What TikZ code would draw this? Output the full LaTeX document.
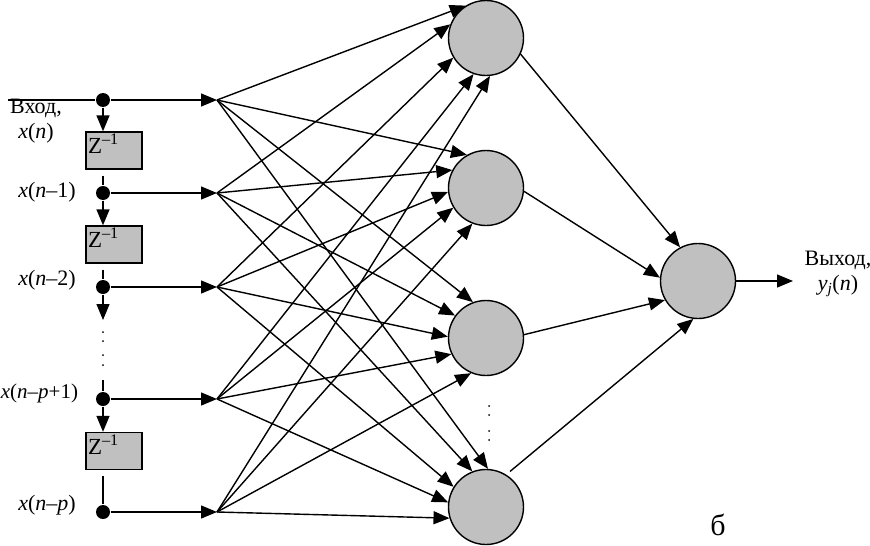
\documentclass[tikz,border=0pt]{standalone}
\usepackage{fontspec}
\setmainfont{Liberation Serif}
\usetikzlibrary{arrows.meta}
\definecolor{nodegray}{RGB}{192,192,192}
\begin{document}
\begin{tikzpicture}[x=1pt,y=-1pt,
  line width=1.4pt,
  tip/.style={-{Triangle[length=16pt,width=13pt]}},
  dotnode/.style={circle,fill=black,inner sep=0pt,minimum size=14pt},
  delay/.style={draw,fill=nodegray,minimum width=56pt,minimum height=37pt,inner sep=0pt,
    label={[lbl,font=\fontsize{23}{26}\selectfont,inner sep=2pt,anchor=north west]north west:Z\textsuperscript{–1}}},
  neuron/.style={circle,draw,fill=nodegray,minimum size=75pt,inner sep=0pt},
  lbl/.style={font=\fontsize{22}{25}\selectfont,inner sep=0pt},
]
\useasboundingbox (0,0) rectangle (870,546);
% input chain
\coordinate (in) at (8,100);
\node[dotnode] (d1) at (103,100) {};
\node[dotnode] (d2) at (103,193) {};
\node[dotnode] (d3) at (103,287) {};
\node[dotnode] (d4) at (103,399) {};
\node[dotnode] (d5) at (103,512) {};
\node[delay] (z1) at (114,150.5) {};
\node[delay] (z2) at (114,244.5) {};
\node[delay] (z3) at (114,451) {};
\coordinate (c1) at (103,320);
\coordinate (c2) at (103,380);
\foreach \i/\y in {1/100,2/193,3/287,4/399,5/512}
  \coordinate (f\i) at (217,\y);
\draw (in) -- (d1);
\draw[tip] (d1) -- (d1 |- z1.north);
\draw[shorten <=6pt] (d2 |- z1.south) -- (d2);
\draw[tip] (d2) -- (d2 |- z2.north);
\draw[shorten <=6pt] (d3 |- z2.south) -- (d3);
\draw[tip] (d3) -- (c1);
\draw (c2) -- (d4);
\draw[tip] (d4) -- (d4 |- z3.north);
\draw[shorten <=6pt] (d5 |- z3.south) -- (d5);
\foreach \i in {1,...,5} \draw[tip] (d\i) -- (f\i);
\foreach \y in {332,341,355,365} \fill (103,\y) circle (1pt);
% hidden layer
\node[neuron] (h1) at (486,38) {};
\node[neuron] (h2) at (486,188) {};
\node[neuron] (h3) at (486,338) {};
\node[neuron] (h4) at (486,507) {};
\foreach \y in {406,415,431,440} \fill (489,\y) circle (1pt);
\foreach \f/\h/\a in {1/1/122,2/1/159,3/1/211,4/1/251,5/1/276,
                      1/2/120,2/2/152,3/2/186,4/2/211,5/2/249,
                      1/3/110,2/3/144,3/3/178,4/3/205,5/3/247,
                      1/4/87,2/4/111,3/4/148,4/4/173,5/4/197}
  \draw[tip] (f\f) -- (h\h.\a);
% output
\node[neuron] (o) at (698,281) {};
\draw[tip] (h1.-25) -- (o.118);
\draw[tip] (h2.-5) -- (o.175);
\draw[tip] (h3.5) -- (o.-150);
\draw[tip,shorten <=5pt] (h4.58) -- (o.-97);
\coordinate (out) at (793,281);
\draw[tip] (o) -- (out);
% labels
\node[lbl,align=center] (inl) at (36,121) {Вход,\\\textit{x}(\textit{n})};
\node[lbl] (l1) at (47,192) {\textit{x}(\textit{n}–1)};
\node[lbl] (l2) at (47,280) {\textit{x}(\textit{n}–2)};
\node[lbl,font=\fontsize{21}{24}\selectfont] (l3) at (39.5,393) {\textit{x}(\textit{n}–\textit{p}+1)};
\node[lbl] (l4) at (47,505) {\textit{x}(\textit{n}–\textit{p})};
\node[lbl,align=center] (outl) at (838,274) {Выход,\\\textit{y}\textsubscript{\textit{j}}(\textit{n})};
\node[font=\fontsize{30}{34}\selectfont,inner sep=0pt] (b) at (718,525) {б};
\end{tikzpicture}
\end{document}
